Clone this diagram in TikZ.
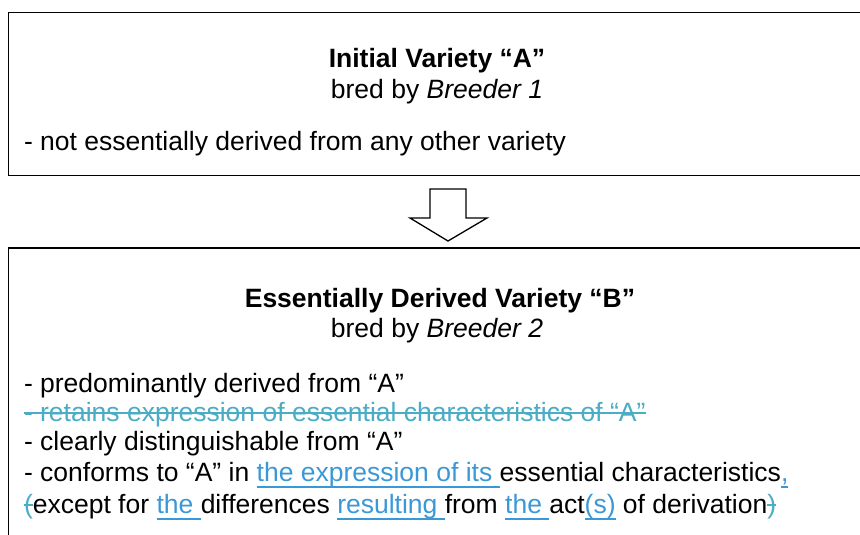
\documentclass[tikz,border=0pt]{standalone}
\usepackage{fontspec}
\setmainfont{Liberation Sans}
\definecolor{insblue}{HTML}{3A98D6}
\definecolor{delteal}{HTML}{4BACC6}
\newsavebox\markbox
\newcommand\ins[1]{{\color{insblue}\sbox\markbox{#1}\rlap{\rule[-6.8pt]{\wd\markbox}{1.6pt}}\usebox\markbox}}
\newcommand\del[1]{{\color{delteal}\sbox\markbox{#1}\rlap{\rule[7.5pt]{\wd\markbox}{1.4pt}}\usebox\markbox}}
\tikzset{
  txt/.style={inner sep=0pt, outer sep=0pt, font=\fontsize{26.5}{30}\selectfont},
  frame/.style={line width=1.8pt},
}
\begin{document}
\begin{tikzpicture}[x=1pt,y=-1pt]
\useasboundingbox (0,0) rectangle (860,535);
% boxes
\draw[frame] (868,12.5) -- (8.5,12.5) -- (8.5,175.5) -- (868,175.5);
\draw[frame] (868,248) -- (8.5,248) -- (8.5,545);
% arrow
\draw[line width=1.3pt, fill=white] (430,189) -- (466,189) -- (466,218) -- (487,218) -- (448,241) -- (410,218) -- (430,218) -- cycle;
% top texts
\node[txt, anchor=base] (t1) at (437,67) {\bfseries Initial Variety “A”};
\node[txt, anchor=base] (t2) at (437,99) {bred by \itshape Breeder 1};
\node[txt, anchor=base west] (t3) at (24,150) {- not essentially derived from any other variety};
% bottom texts
\node[txt, anchor=base] (b1) at (440,307) {\bfseries Essentially Derived Variety “B”};
\node[txt, anchor=base] (b2) at (437,337) {bred by \itshape Breeder 2};
\node[txt, anchor=base west] (l1) at (24,392) {- predominantly derived from “A”};
\node[txt, anchor=base west] (l2) at (24,421) {\del{- retains expression of essential characteristics of “A”}};
\node[txt, anchor=base west] (l3) at (24,450) {- clearly distinguishable from “A”};
\node[txt, anchor=base west] (l4) at (24,481) {- conforms to “A” in \ins{the expression of its }essential characteristics\ins{,}};
\node[txt, anchor=base west] (l5) at (24,513) {\del{(}except for \ins{the }differences \ins{resulting }from \ins{the }act\ins{(s)} of derivation\del{)}};
\end{tikzpicture}
\end{document}
